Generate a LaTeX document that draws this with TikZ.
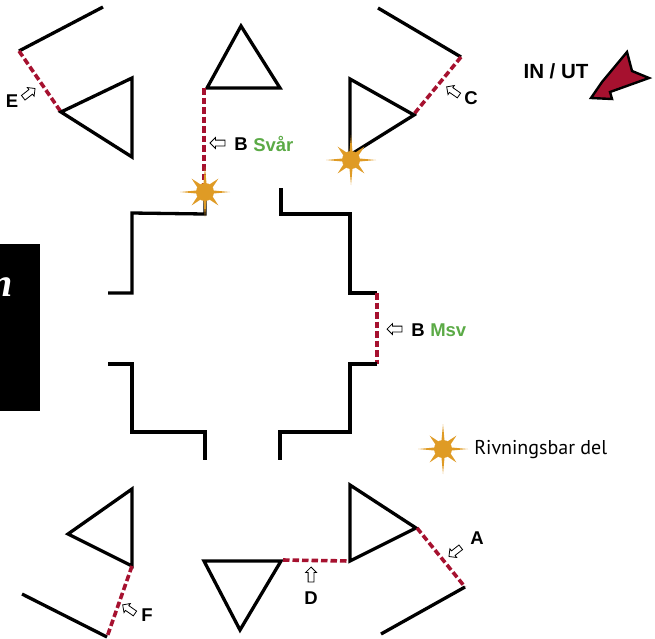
\documentclass[tikz,border=0pt]{standalone}
\usepackage{fontspec}
\setsansfont{Liberation Sans}
\newfontfamily\legendfont{PT Sans}
\newfontfamily\cutfont{Liberation Serif}
\usetikzlibrary{shapes.arrows}
\definecolor{openred}{HTML}{A6112F}
\definecolor{gradegreen}{HTML}{5BAA46}
\definecolor{burstgold}{HTML}{DF9B25}
\tikzset{
every path/.style={line width=0.5pt}
, wall/.style={line width=3.3pt,line cap=butt,line join=miter}
, opening/.style={color=openred,line width=3.6pt,dash pattern=on 6.5pt off 3pt}
, lbl/.style={font=\sffamily\bfseries\fontsize{18.5}{18.5}\selectfont,inner sep=0}
, gradelbl/.style={lbl,text=gradegreen}
, pointer/.style={single arrow,draw,fill=white,line width=0.8pt,inner sep=0,minimum height=15,single arrow head extend=2.6pt,single arrow head indent=0pt}
, burst/.pic={
    \fill[burstgold] (0,0) circle (9);
    \foreach \ang in {0,90,180,270} {
      \fill[burstgold] (\ang-22:5) -- (\ang:25) -- (\ang+22:5) -- cycle;
      \fill[burstgold] (\ang+45-28:6) -- (\ang+45:19) -- (\ang+45+28:6) -- cycle;
    }
  }}
\newcommand{\ptrfill}{\rule{0pt}{5pt}}

\begin{document}
\begin{tikzpicture}[x=1pt,y=-1pt]
\useasboundingbox (0,0) rectangle (655,638);
\fill[black] (0,244) rectangle (40,411);
\node[text=white,inner sep=0,anchor=base east,font=\cutfont\bfseries\itshape\fontsize{40}{40}\selectfont] (cut) at (13,296) {n};
% top left
\draw[wall] (103,7) -- (19,51);
\draw[opening] (19,51) -- (61,112);
\draw[wall] (61,112) -- (132,78) -- (132,157) -- cycle;
% top
\draw[wall] (241,26) -- (280,88) -- (207,88) -- cycle;
\draw[opening] (204,88) -- (204,195);
% top right
\draw[wall] (378,8) -- (461,57);
\draw[opening] (461,57) -- (414,114);
\draw[wall] (350,79) -- (414,115) -- (350,155) -- cycle;
% centre
\draw[wall] (108,293) -- (132,293) -- (132,213) -- (205,214) -- (205,190);
\draw[wall] (281,188) -- (281,214) -- (350,214) -- (350,293) -- (377,293);
\draw[opening] (377,293) -- (377,364);
\draw[wall] (377,364) -- (350,364) -- (350,432) -- (280,432) -- (280,460);
\draw[wall] (108,364) -- (132,364) -- (132,432) -- (205,432) -- (205,460);
% bottom left
\draw[wall] (132,489) -- (68,534) -- (132,566) -- cycle;
\draw[opening] (132,566) -- (107,637);
\draw[wall] (22,594) -- (107,637);
% bottom
\draw[wall] (204,561) -- (281,561) -- (240,630) -- cycle;
\draw[opening] (283,560) -- (350,561);
% bottom right
\draw[wall] (350,485) -- (416,528) -- (350,561) -- cycle;
\draw[opening] (417,528) -- (465,587);
\draw[wall] (465,587) -- (381,634);
% bursts
\pic at (205,192) {burst};
\pic at (351,160) {burst};
\pic at (443,449) {burst};
% labels
\node[lbl] (e) at (12,101) {E};
\node[pointer,rotate=38] (pe) at (28,94) {\ptrfill};
\node[pointer,rotate=180] (pbs) at (219,143) {\ptrfill};
\node[lbl] (bs) at (241,144) {B};
\node[gradelbl,anchor=west] (svar) at (253,144) {Svår};
\node[pointer,rotate=145] (pc) at (454,92) {\ptrfill};
\node[lbl] (c) at (471,98) {C};
\node[lbl,font=\sffamily\bfseries\fontsize{20.5}{20.5}\selectfont] (inut) at (556,71) {IN / UT};
\node[pointer,rotate=180] (pbm) at (396,329) {\ptrfill};
\node[lbl] (bm) at (418,330) {B};
\node[gradelbl,anchor=west] (msv) at (430,330) {Msv};
\node[inner sep=0,anchor=west,font=\legendfont\fontsize{20}{20}\selectfont] (legend) at (474,450) {Rivningsbar del};
\node[pointer,rotate=218] (pa) at (456,551) {\ptrfill};
\node[lbl] (a) at (477,538) {A};
\node[pointer,rotate=90] (pd) at (311,576) {\ptrfill};
\node[lbl] (d) at (311,598) {D};
\node[pointer,rotate=145] (pf) at (130,610) {\ptrfill};
\node[lbl] (f) at (147,615) {F};
% entrance arrow
\draw[line width=2.4pt,fill=openred,line join=miter] (591,98) -- (602,82) -- (627,52) -- (632,71) -- (649,78) -- (610,92) -- (612,99) -- cycle;
\end{tikzpicture}
\end{document}
